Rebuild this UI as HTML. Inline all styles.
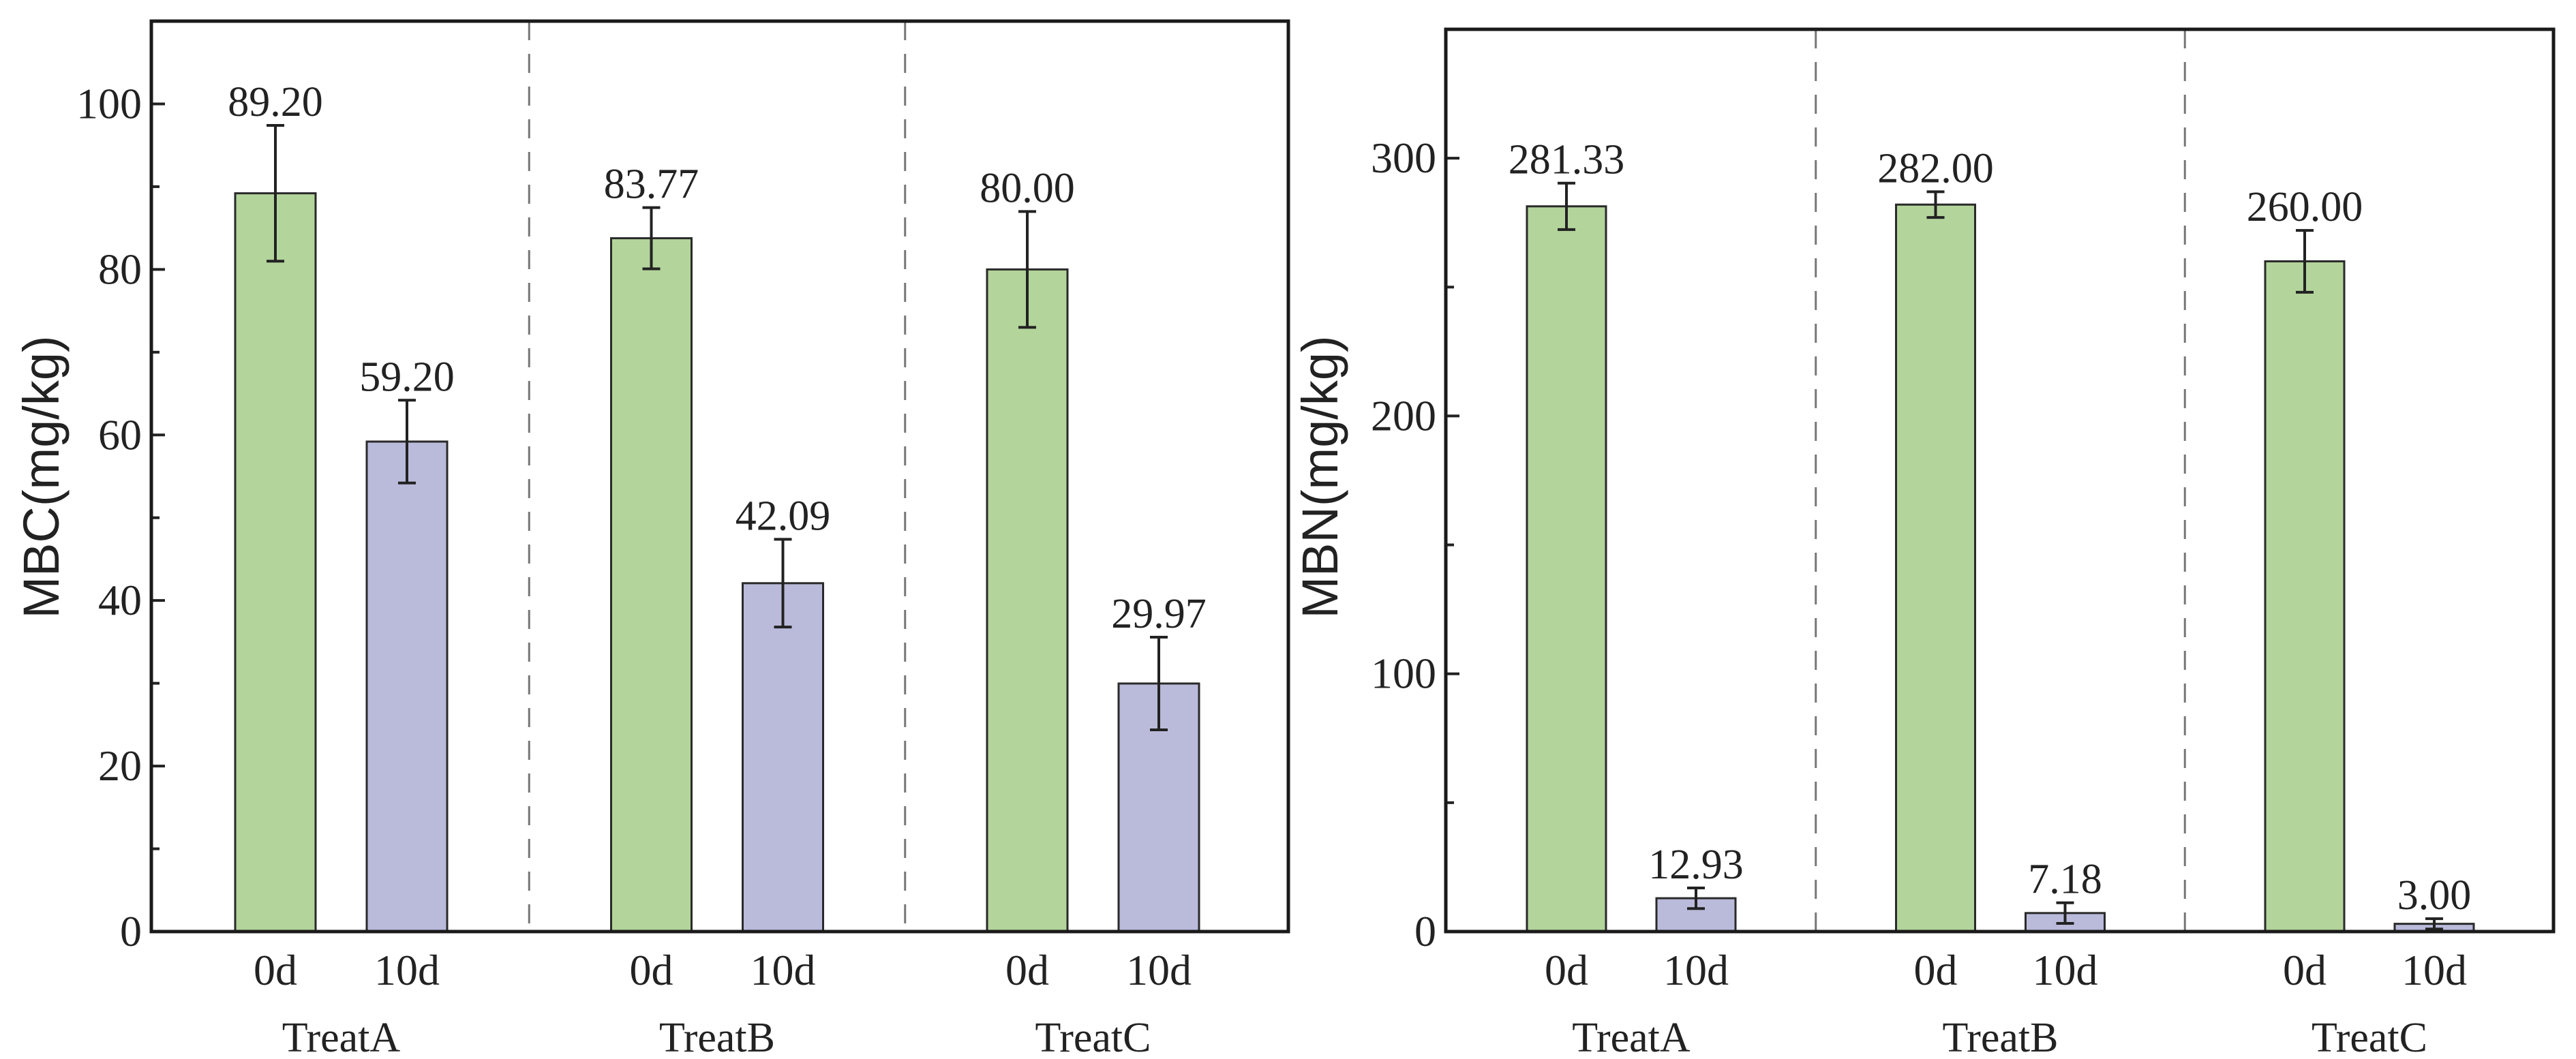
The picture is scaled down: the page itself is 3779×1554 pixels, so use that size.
<!DOCTYPE html>
<html><head><meta charset="utf-8"><style>
html,body{margin:0;padding:0;background:#fff;}
svg{display:block;}
</style></head><body>
<svg id="chart" width="3779" height="1554" viewBox="0 0 3779 1554" xmlns="http://www.w3.org/2000/svg"></svg>
<script>
const groups = ["TreatA","TreatB","TreatC"];
const days = ["0d","10d"];
const mbcValues = [[89.20,59.20],[83.77,42.09],[80.00,29.97]];
const mbcErrors = [[8.2,5.0],[3.7,5.3],[7.0,5.6]];
const mbcLabels = [["89.20","59.20"],["83.77","42.09"],["80.00","29.97"]];
const mbcTicks = [0,20,40,60,80,100];
const mbnValues = [[281.33,12.93],[282.00,7.18],[260.00,3.00]];
const mbnErrors = [[9,4],[5,4],[12,2]];
const mbnLabels = [["281.33","12.93"],["282.00","7.18"],["260.00","3.00"]];
const mbnTicks = [0,100,200,300];

const NS="http://www.w3.org/2000/svg";
const svg=document.getElementById('chart');
function mk(tag,attrs,parent){const e=document.createElementNS(NS,tag);for(const k in attrs)e.setAttribute(k,attrs[k]);(parent||svg).appendChild(e);return e;}
const colors=["#b3d49b","#babbdb"];

function panel(cfg){
  const g=mk('g',{});
  
  
  const {L,R,T,B,ymax}=cfg;
  const y=v=>B-(v/ymax)*(B-T);
  const x=(gi,k)=>L+cfg.x0+gi*cfg.gw+k*cfg.iw;
  for(let i=1;i<groups.length;i++){
    const sx=L+cfg.x0+cfg.iw/2+(i-0.5)*cfg.gw;
    const s=mk('line',{x1:sx,x2:sx,y1:T,y2:B,stroke:'#777','stroke-width':3,'stroke-dasharray':'28,20'},g);
    
    
  }
  groups.forEach((gn,gi)=>{
    days.forEach((d,k)=>{
      const v=cfg.values[gi][k], e=cfg.errors[gi][k];
      const cx=x(gi,k), bw=cfg.bw;
      const r=mk('rect',{x:cx-bw/2,y:y(v),width:bw,height:B-y(v),fill:colors[k],stroke:'#2a2a2a','stroke-width':3},g);
      
      
      const eb=mk('path',{d:`M${cx},${y(v+e)}V${y(v-e)}M${cx-13},${y(v+e)}H${cx+13}M${cx-13},${y(v-e)}H${cx+13}`,stroke:'#222','stroke-width':4,fill:'none'},g);
      
      
      const t=mk('text',{x:cx,y:y(v+e)-14,'text-anchor':'middle','font-family':'Liberation Serif, serif','font-size':62,fill:'#222'},g);
      t.textContent=cfg.labels[gi][k];
      
      
      const xl=mk('text',{x:cx,y:B+78,'text-anchor':'middle','font-family':'Liberation Serif, serif','font-size':64,fill:'#222'},g);
      xl.textContent=d;
      
      
    });
    const gl=mk('text',{x:(x(gi,0)+x(gi,1))/2,y:B+176,'text-anchor':'middle','font-family':'Liberation Serif, serif','font-size':62,fill:'#222'},g);
    gl.textContent=gn;
    
    
  });
  const step=cfg.ticks[1]-cfg.ticks[0];
  for(let v=0;v<=ymax;v+=step/2){
    const major=cfg.ticks.includes(v);
    const tk=mk('line',{x1:L,x2:L+(major?20:12),y1:y(v),y2:y(v),stroke:'#222','stroke-width':4},g);
    
    
  }
  cfg.ticks.forEach(v=>{
    const t=mk('text',{x:L-14,y:y(v)+21,'text-anchor':'end','font-family':'Liberation Serif, serif','font-size':64,fill:'#222'},g);
    t.textContent=v;
    
    
  });
  const fr=mk('rect',{x:L,y:T,width:R-L,height:B-T,fill:'none',stroke:'#1a1a1a','stroke-width':5},g);
  
  
  const yt=mk('text',{x:cfg.tx,y:700,'text-anchor':'middle','font-family':'Liberation Sans, sans-serif','font-size':74,fill:'#222',transform:`rotate(-90 ${cfg.tx} 700)`},g);
  yt.textContent=cfg.title;
  
  
}
panel({name:'mbc-chart',L:222,R:1890,T:31,B:1367,ymax:110,x0:182,gw:551.5,iw:193,bw:118,values:mbcValues,errors:mbcErrors,labels:mbcLabels,ticks:mbcTicks,title:'MBC(mg/kg)',tx:86});
panel({name:'mbn-chart',L:2121,R:3746,T:43,B:1367,ymax:350,x0:177,gw:541.5,iw:190,bw:116,values:mbnValues,errors:mbnErrors,labels:mbnLabels,ticks:mbnTicks,title:'MBN(mg/kg)',tx:1962});
</script>
</body></html>
